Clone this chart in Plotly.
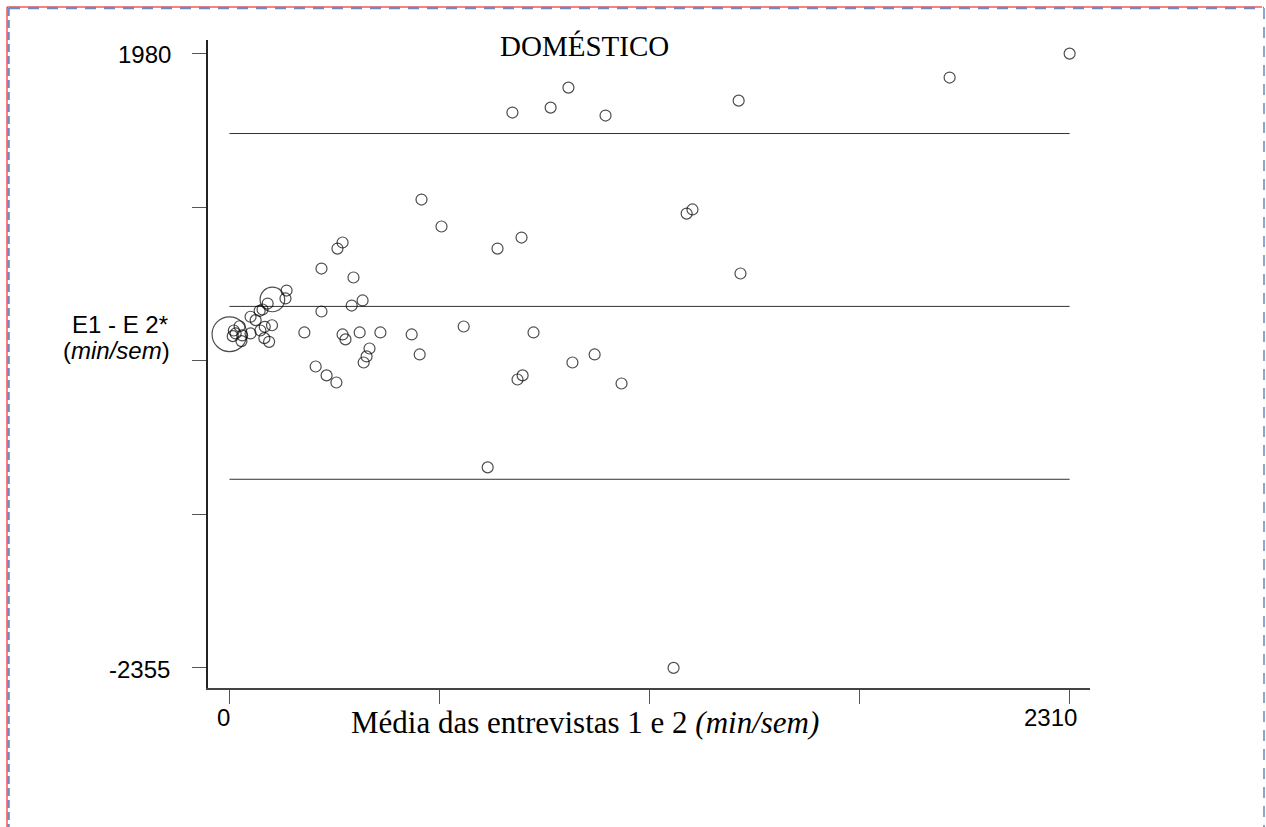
import plotly.graph_objects as go

# média das entrevistas 1 e 2 (min/sem)
media = [2310, 1980, 1400, 932, 883, 778, 1034,
         528, 583, 737, 803, 1257, 1273, 1405,
         311, 297, 253, 341, 157, 154, 366, 336, 253, 118,
         644, 836, 501, 415, 358, 311, 319, 206, 385, 377, 369,
         523, 1004, 943, 237, 267, 294, 806, 792, 1078, 710, 1221,
         0, 12, 9, 17, 35, 33, 28, 58, 58, 72, 83, 91, 105,
         85, 97, 96, 109, 117]
# diferença E1 - E2 (min/sem)
diferenca = [1980, 1811, 1648, 1740, 1599, 1564, 1543,
             950, 760, 604, 682, 851, 880, 428,
             647, 604, 463, 400, 308, 252, 238, 202, 160, 245,
             54, 12, -2, 12, 12, -2, -37, 12, -101, -157, -200,
             -143, -143, -200, -228, -291, -341, -291, -320, -348, -940, -2355,
             0, 26, -14, 5, -9, -49, 56, 5, 123, 99, 165, 174, 216,
             26, 52, -28, -54, 63]
# frequência de cada par (peso)
freq = [1] * 23 + [5] + [1] * 22 + [10] + [1] * 17

media_dif = 196
lim_sup = 1416
lim_inf = -1024

x_ticks = [0, 577.5, 1155, 1732.5, 2310]
y_ticks = [1980, 896.25, -187.5, -1271.25, -2355]

fig = go.Figure()

for val in [lim_sup, media_dif, lim_inf]:
    fig.add_trace(go.Scatter(x=[0, 2310], y=[val, val], mode='lines',
                             line=dict(color='#333333', width=1),
                             hoverinfo='skip', showlegend=False))

fig.add_trace(go.Scatter(
    x=media, y=diferenca, mode='markers',
    marker=dict(symbol='circle-open', color='black',
                size=[11 * f ** 0.5 for f in freq],
                line=dict(width=1.2, color='black')),
    showlegend=False,
    hovertemplate='%{x}<br>%{y}<extra></extra>'
))

L, R, T, B = 208, 1090, 40, 688


def px(x):
    return (x - L) / (R - L)


def py(y):
    return (B - y) / (B - T)


fig.update_xaxes(
    range=[-59, 2366], tickvals=x_ticks, ticktext=['', '', '', '', ''],
    ticks='outside', ticklen=14, tickcolor='#555555', tickwidth=1,
    showline=True, linecolor='#444444', linewidth=1.5,
    showgrid=False, zeroline=False
)
fig.update_yaxes(
    range=[-2497, 2076], tickvals=y_ticks, ticktext=['', '', '', '', ''],
    ticks='outside', ticklen=14, tickcolor='#555555', tickwidth=1,
    showline=True, linecolor='#222222', linewidth=1.5,
    showgrid=False, zeroline=False
)

serif = dict(family='Liberation Serif', size=29, color='black')
sans = dict(family='Liberation Sans', size=24, color='black')
annots = [
    dict(text='DOMÉSTICO', x=px(584), y=py(46), font=serif),
    dict(text='Média das entrevistas 1 e 2 <i>(min/sem)</i>', x=px(585), y=py(722),
         font=dict(serif, size=31)),
    dict(text='E1 - E 2*', x=px(120), y=py(325), font=dict(sans, size=24)),
    dict(text='(<i>min/sem</i>)', x=px(116), y=py(350), font=dict(sans, size=24)),
    dict(text='1980', x=px(144), y=py(55), font=sans),
    dict(text='-2355', x=px(139), y=py(669), font=sans),
    dict(text='0', x=px(223), y=py(717), font=sans),
    dict(text='2310', x=px(1050), y=py(717), font=sans),
]
for a in annots:
    a.update(xref='paper', yref='paper', showarrow=False,
             xanchor='center', yanchor='middle')

shapes = [
    dict(type='line', x0=px(7), x1=px(1262), y0=py(7), y1=py(7),
         line=dict(color='red', width=1)),
    dict(type='line', x0=px(7), x1=px(7), y0=py(7), y1=py(827),
         line=dict(color='red', width=1)),
    dict(type='line', x0=px(9), x1=px(1264), y0=py(8), y1=py(8),
         line=dict(color='#6a8cc4', width=2.5, dash='11px,8px')),
    dict(type='line', x0=px(8.5), x1=px(8.5), y0=py(8), y1=py(827),
         line=dict(color='#6a8cc4', width=2.5, dash='8px,4px')),
    dict(type='line', x0=px(1264), x1=px(1264), y0=py(8), y1=py(827),
         line=dict(color='#8aa6d4', width=2, dash='11px,8px')),
]
for s in shapes:
    s.update(xref='paper', yref='paper', layer='above')

fig.update_layout(
    width=1266, height=827,
    margin={'l': L, 'r': 1266 - R, 't': T, 'b': 827 - B},
    plot_bgcolor='white', paper_bgcolor='white',
    annotations=annots, shapes=shapes
)

fig.write_html("out.html", config={'displayModeBar': False},
               post_script="document.body.style.margin='0px';")
